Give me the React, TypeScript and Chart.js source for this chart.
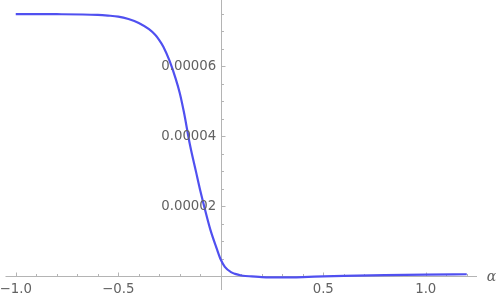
import React, { useEffect, useRef } from "react";
import { Chart, registerables } from "chart.js";

Chart.register(...registerables);

// Curve samples
const alphaValues = [
  -1.0, -0.8, -0.6, -0.55, -0.5, -0.45, -0.4, -0.35, -0.32, -0.3, -0.28,
  -0.25, -0.22, -0.2, -0.18, -0.15, -0.12, -0.1, -0.08, -0.05, -0.02, 0, 0.02,
  0.05, 0.07, 0.1, 0.12, 0.15, 0.2, 0.3, 0.4, 0.5, 0.6, 0.8, 1.0, 1.2,
];
const curveValues = [
  7.49e-5, 7.488e-5, 7.47e-5, 7.45e-5, 7.42e-5, 7.35e-5, 7.24e-5, 7.06e-5,
  6.9e-5, 6.75e-5, 6.56e-5, 6.16e-5, 5.65e-5, 5.24e-5, 4.7e-5, 3.75e-5,
  2.97e-5, 2.45e-5, 1.98e-5, 1.32e-5, 0.8e-5, 0.48e-5, 0.27e-5, 0.12e-5,
  0.07e-5, 0.025e-5, 0.01e-5, 0.0, -0.02e-5, -0.03e-5, -0.02e-5, 0.0,
  0.015e-5, 0.035e-5, 0.05e-5, 0.06e-5,
];

// Axis ticks
const xMajorTicks = [-1.0, -0.5, 0.5, 1.0];
const xMajorLabels = ["\u22121.0", "\u22120.5", "0.5", "1.0"];
const xMinorTicks = [
  -1.0, -0.9, -0.8, -0.7, -0.6, -0.5, -0.4, -0.3, -0.2, -0.1, 0.1, 0.2, 0.3,
  0.4, 0.5, 0.6, 0.7, 0.8, 0.9, 1.0, 1.1, 1.2,
];
const yMajorTicks = [2e-5, 4e-5, 6e-5];
const yMajorLabels = ["0.00002", "0.00004", "0.00006"];
const yMinorTicks = [
  0.5e-5, 1e-5, 1.5e-5, 2e-5, 2.5e-5, 3e-5, 3.5e-5, 4e-5, 4.5e-5, 5e-5,
  5.5e-5, 6e-5, 6.5e-5, 7e-5, 7.5e-5,
];
const xAxisLabel = "\u03b1";

const X_MIN = -1.05;
const X_MAX = 1.25;
const Y_MIN = -0.39e-5;
const Y_MAX = 7.894e-5;

const axesPlugin = {
  id: "mathAxes",
  beforeDatasetsDraw(chart: any) {
    const ctx = chart.ctx as CanvasRenderingContext2D;
    const xs = chart.scales.x;
    const ys = chart.scales.y;
    const area = chart.chartArea;
    const x0 = Math.round(xs.getPixelForValue(0)) + 0.5;
    const y0 = Math.round(ys.getPixelForValue(0)) + 0.5;
    ctx.save();
    ctx.strokeStyle = "#b4b4b4";
    ctx.lineWidth = 1;
    ctx.beginPath();
    ctx.moveTo(area.left, y0);
    ctx.lineTo(area.right, y0);
    ctx.stroke();
    ctx.beginPath();
    ctx.moveTo(x0, area.top);
    ctx.lineTo(x0, area.bottom);
    ctx.stroke();
    ctx.beginPath();
    xMinorTicks.forEach((v) => {
      const px = Math.round(xs.getPixelForValue(v)) + 0.5;
      const major = xMajorTicks.some((m) => Math.abs(m - v) < 1e-9);
      ctx.moveTo(px, y0);
      ctx.lineTo(px, y0 - (major ? 4 : 2.5));
    });
    yMinorTicks.forEach((v) => {
      const py = Math.round(ys.getPixelForValue(v)) + 0.5;
      const major = yMajorTicks.some((m) => Math.abs(m - v) < 1e-12);
      ctx.moveTo(x0, py);
      ctx.lineTo(x0 + (major ? 4 : 2.5), py);
    });
    ctx.stroke();
    ctx.restore();
  },
  afterDatasetsDraw(chart: any) {
    const ctx = chart.ctx as CanvasRenderingContext2D;
    const xs = chart.scales.x;
    const ys = chart.scales.y;
    const x0 = xs.getPixelForValue(0);
    const y0 = ys.getPixelForValue(0);
    ctx.save();
    ctx.fillStyle = "#626262";
    ctx.font = '13.3px "DejaVu Sans", sans-serif';
    ctx.textBaseline = "middle";
    ctx.textAlign = "center";
    xMajorTicks.forEach((v, i) => {
      ctx.fillText(xMajorLabels[i], xs.getPixelForValue(v), y0 + 13);
    });
    ctx.textAlign = "right";
    yMajorTicks.forEach((v, i) => {
      ctx.fillText(yMajorLabels[i], x0 - 4.5, ys.getPixelForValue(v) + 0.5);
    });
    ctx.font = 'italic 14px "DejaVu Serif", serif';
    ctx.textAlign = "center";
    ctx.fillText(xAxisLabel, 491.5, y0 + 1);
    ctx.restore();
  },
};

export default function App() {
  const canvasRef = useRef<HTMLCanvasElement | null>(null);

  useEffect(() => {
    if (!canvasRef.current) return;
    const chart = new Chart(canvasRef.current, {
      type: "line",
      data: {
        datasets: [
          {
            data: alphaValues.map((a, i) => ({ x: a, y: curveValues[i] })),
            borderColor: "#5050f0",
            borderWidth: 2.2,
            pointRadius: 0,
            fill: false,
            cubicInterpolationMode: "monotone",
          },
        ],
      },
      options: {
        responsive: false,
        animation: false,
        events: [],
        layout: { padding: { left: 5.5, right: 21, top: 0, bottom: 8 } },
        plugins: {
          legend: { display: false },
          tooltip: { enabled: false },
        },
        scales: {
          x: { type: "linear", min: X_MIN, max: X_MAX, display: false },
          y: { type: "linear", min: Y_MIN, max: Y_MAX, display: false },
        },
      },
      plugins: [axesPlugin],
    });
    return () => chart.destroy();
  }, []);

  return (
    <div style={{ position: "fixed", left: 0, top: 0, width: 498, height: 298, background: "#fff" }}>
      <canvas ref={canvasRef} width={498} height={298} style={{ display: "block" }} />
    </div>
  );
}
